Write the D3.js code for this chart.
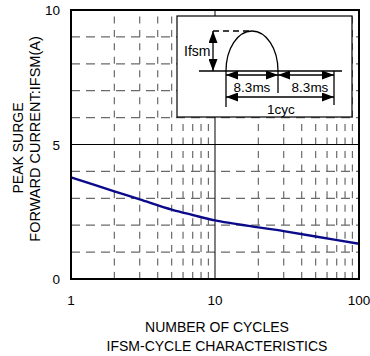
<!DOCTYPE html>
<html>
<head>
<meta charset="utf-8">
<script src="https://cdn.jsdelivr.net/npm/d3@7"></script>
<style>
  html, body { margin: 0; padding: 0; background: #fff; }
  svg { display: block; font-family: "Liberation Sans", Arial, sans-serif; }
</style>
</head>
<body>
<svg id="chart" width="370" height="356"></svg>
<script>
// Surge current vs. number of cycles
const cycles = [1, 2, 3, 5, 7, 10, 20, 30, 50, 100];
const ifsm   = [3.78, 3.26, 2.96, 2.58, 2.38, 2.18, 1.92, 1.78, 1.58, 1.31];

const xTickLabels = ["1", "10", "100"];
const yTickLabels = ["0", "5", "10"];
const xTitle = ["NUMBER OF CYCLES", "IFSM-CYCLE CHARACTERISTICS"];
const yTitle = ["PEAK SURGE", "FORWARD CURRENT:IFSM(A)"];

const plot = { left: 71, right: 359, top: 10, bottom: 279 };
const svg = d3.select("#chart");

const x = d3.scaleLog().domain([1, 100]).range([plot.left, plot.right]);
const y = d3.scaleLinear().domain([0, 10]).range([plot.bottom, plot.top]);

// minor grid values
const xMinor = [];
[1, 10].forEach(d => { for (let k = 2; k <= 9; k++) xMinor.push(d * k); });
const yMinor = [1, 2, 3, 4, 6, 7, 8, 9];

const cell = (y(0) - y(1)) / 2;
const grid = svg.append("g");
grid.selectAll(".vx").data(xMinor).join("line")
  .attr("x1", d => x(d)).attr("x2", d => x(d))
  .attr("y1", plot.bottom).attr("y2", plot.top)
  .attr("stroke", "#6a6a6a").attr("stroke-width", 1.2)
  .attr("stroke-dasharray", `7,${cell - 7}`);
grid.selectAll(".hy").data(yMinor).join("line")
  .attr("x1", plot.left).attr("x2", plot.right)
  .attr("y1", d => y(d)).attr("y2", d => y(d))
  .attr("stroke", "#6a6a6a").attr("stroke-width", 1.2)
  .attr("stroke-dasharray", "9,6");

// solid major lines
grid.append("line").attr("x1", x(10)).attr("x2", x(10))
  .attr("y1", plot.bottom).attr("y2", plot.top).attr("stroke", "#000").attr("stroke-width", 1);
grid.append("line").attr("x1", plot.left).attr("x2", plot.right)
  .attr("y1", y(5)).attr("y2", y(5)).attr("stroke", "#000").attr("stroke-width", 1);

// curve
const line = d3.line()
  .x((d, i) => x(cycles[i]))
  .y(d => y(d))
  .curve(d3.curveCatmullRom.alpha(0.5));
svg.append("path").datum(ifsm)
  .attr("d", line).attr("fill", "none")
  .attr("stroke", "#0a0a8a").attr("stroke-width", 2.4);

// inset waveform diagram
const inset = svg.append("g");
const bx = 177, by = 16, bw = 175, bh = 101;
inset.append("rect").attr("x", bx).attr("y", by).attr("width", bw).attr("height", bh)
  .attr("fill", "#fff").attr("stroke", "#000").attr("stroke-width", 1.2);

const defs = svg.append("defs");
defs.append("marker").attr("id", "ah")
  .attr("viewBox", "0 0 12 9").attr("refX", 12).attr("refY", 4.5)
  .attr("markerWidth", 12).attr("markerHeight", 9)
  .attr("markerUnits", "userSpaceOnUse").attr("orient", "auto-start-reverse")
  .append("path").attr("d", "M0,0 L12,4.5 L0,9 Z").attr("fill", "#000");

const ink = { stroke: "#000", "stroke-width": 1.3, fill: "none" };
function seg(x1, y1, x2, y2, arrows, dash) {
  const l = inset.append("line").attr("x1", x1).attr("y1", y1).attr("x2", x2).attr("y2", y2);
  Object.entries(ink).forEach(([k, v]) => l.attr(k, v));
  if (arrows) l.attr("marker-start", "url(#ah)").attr("marker-end", "url(#ah)");
  if (dash) l.attr("stroke-dasharray", dash);
  return l;
}
const xa = 226, xb = 278, xc = 334, yBase = 71, yPeak = 31;
// half-wave pulse
inset.append("path")
  .attr("d", `M${xa},${yBase} A${(xb - xa) / 2},${yBase - yPeak} 0 0 1 ${xb},${yBase}`)
  .attr("fill", "none").attr("stroke", "#000").attr("stroke-width", 1.3);
seg(199, yBase, 342, yBase);
seg(xa, yBase, xa, 107);
seg(xb, yBase, xb, 93);
seg(xc, yBase, xc, 105);
seg(213, yPeak, 252, yPeak, false, "6,4");
seg(213, yPeak, 213, yBase, true);
seg(xa, 75, xb, 75, true);
seg(xb, 75, xc, 75, true);
seg(xa, 97, xc, 97, true);

const tf = { "font-size": 14, fill: "#000" };
function txt(g, s, tx, ty, anchor, size) {
  const t = g.append("text").attr("x", tx).attr("y", ty).attr("text-anchor", anchor || "middle").text(s);
  Object.entries(tf).forEach(([k, v]) => t.attr(k, v));
  if (size) t.attr("font-size", size);
  return t;
}
txt(inset, "Ifsm", 184, 56, "start");
txt(inset, "8.3ms", 252, 92, "middle", 13.5);
txt(inset, "8.3ms", 310, 92, "middle", 13.5);
txt(inset, "1cyc", 281, 114, "middle", 13.5);

// frame
svg.append("rect").attr("x", plot.left).attr("y", plot.top)
  .attr("width", plot.right - plot.left).attr("height", plot.bottom - plot.top)
  .attr("fill", "none").attr("stroke", "#000").attr("stroke-width", 2);

// tick labels
const lab = svg.append("g");
[0, 5, 10].forEach((v, i) => txt(lab, yTickLabels[i], 60, y(v) + 5, "end", 13.5));
[1, 10, 100].forEach((v, i) => txt(lab, xTickLabels[i], x(v), 305, "middle", 13.5));

// titles
xTitle.forEach((s, i) => txt(lab, s, 217, 332 + i * 19));
const yTitleCenter = [148, 139];
yTitle.forEach((s, i) => {
  txt(lab, s, 0, 0, "middle", i ? 14.5 : 14)
    .attr("transform", `translate(${23 + i * 17},${yTitleCenter[i]}) rotate(-90)`);
});
</script>
</body>
</html>
